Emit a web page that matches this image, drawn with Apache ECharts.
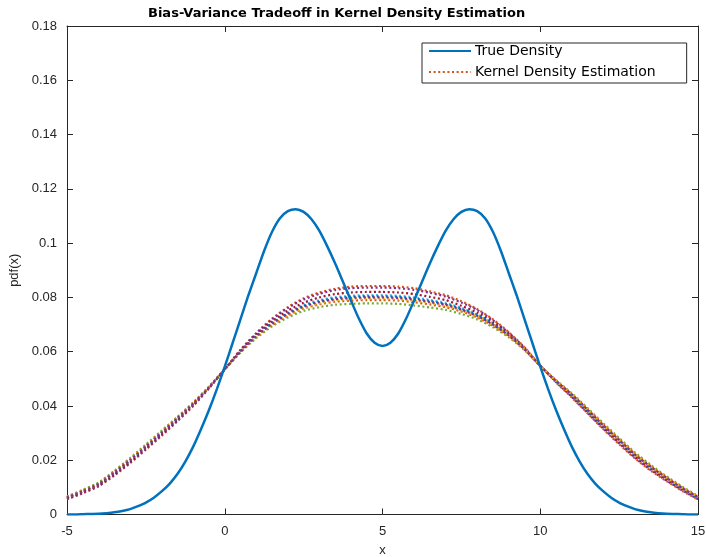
<!DOCTYPE html>
<html>
<head>
<meta charset="utf-8">
<script src="https://cdn.jsdelivr.net/npm/echarts@6/dist/echarts.min.js"></script>
<style>
  html, body { margin: 0; padding: 0; background: #ffffff; }
  #chart { width: 706px; height: 557px; }
</style>
</head>
<body>
<div id="chart"></div>
<script>
// Sample grid for the true mixture density
const xTrue = [-5, -4.75, -4.5, -4.25, -4, -3.75, -3.5, -3.25, -3, -2.75, -2.5, -2.25, -2, -1.75, -1.5, -1.25,
               -1, -0.75, -0.5, -0.25, 0, 0.25, 0.5, 0.75, 1, 1.25, 1.5, 1.75, 2, 2.25, 2.5, 2.75, 3, 3.25, 3.5, 3.75,
               4, 4.25, 4.5, 4.75, 5, 5.25, 5.5, 5.75, 6, 6.25, 6.5, 6.75, 7, 7.25, 7.5, 7.75, 8, 8.25, 8.5, 8.75,
               9, 9.25, 9.5, 9.75, 10, 10.25, 10.5, 10.75, 11, 11.25, 11.5, 11.75, 12, 12.25, 12.5, 12.75,
               13, 13.25, 13.5, 13.75, 14, 14.25, 14.5, 14.75, 15];
const trueDensity = [0.0000, 0.0000, 0.0001, 0.0002, 0.0003, 0.0005, 0.0008, 0.0013, 0.0020, 0.0031, 0.0044, 0.0062,
                     0.0085, 0.0113, 0.0149, 0.0195, 0.0250, 0.0315, 0.0385, 0.0462, 0.0545, 0.0632, 0.0720, 0.0808,
                     0.0890, 0.0972, 0.1042, 0.1092, 0.1118, 0.1125, 0.1115, 0.1088, 0.1045, 0.0988, 0.0925, 0.0857,
                     0.0788, 0.0722, 0.0667, 0.0633, 0.0621, 0.0633, 0.0667, 0.0722, 0.0788, 0.0857, 0.0925, 0.0988,
                     0.1045, 0.1088, 0.1115, 0.1125, 0.1118, 0.1092, 0.1042, 0.0972, 0.0890, 0.0808, 0.0720, 0.0632,
                     0.0545, 0.0462, 0.0385, 0.0315, 0.0250, 0.0195, 0.0149, 0.0113, 0.0085, 0.0062, 0.0044, 0.0031,
                     0.0020, 0.0013, 0.0008, 0.0005, 0.0003, 0.0002, 0.0001, 0.0000, 0.0000];

// Evaluation grid for the kernel density estimates (one per resampled run)
const xKde = [-5, -4.5, -4, -3.5, -3, -2.5, -2, -1.5, -1, -0.5, 0, 0.5, 1, 1.5, 2, 2.5, 3, 3.5, 4, 4.5,
              5, 5.5, 6, 6.5, 7, 7.5, 8, 8.5, 9, 9.5, 10, 10.5, 11, 11.5, 12, 12.5, 13, 13.5, 14, 14.5, 15];
const kdeRun1  = [0.0056, 0.0078, 0.0104, 0.0144, 0.0189, 0.0239, 0.0290, 0.0344, 0.0400, 0.0465, 0.0535, 0.0607, 0.0669, 0.0722, 0.0764, 0.0797, 0.0818, 0.0832, 0.0840, 0.0842, 0.0842, 0.0840, 0.0834, 0.0822, 0.0808, 0.0786, 0.0757, 0.0719, 0.0672, 0.0616, 0.0548, 0.0487, 0.0431, 0.0373, 0.0314, 0.0259, 0.0207, 0.0162, 0.0123, 0.0087, 0.0055];
const kdeRun2  = [0.0063, 0.0087, 0.0113, 0.0155, 0.0202, 0.0252, 0.0303, 0.0355, 0.0409, 0.0469, 0.0535, 0.0600, 0.0656, 0.0702, 0.0738, 0.0764, 0.0781, 0.0791, 0.0796, 0.0798, 0.0798, 0.0796, 0.0790, 0.0781, 0.0771, 0.0753, 0.0731, 0.0699, 0.0659, 0.0609, 0.0548, 0.0493, 0.0442, 0.0386, 0.0329, 0.0275, 0.0222, 0.0176, 0.0136, 0.0098, 0.0064];
const kdeRun3  = [0.0057, 0.0080, 0.0105, 0.0145, 0.0191, 0.0241, 0.0292, 0.0345, 0.0401, 0.0465, 0.0535, 0.0606, 0.0667, 0.0719, 0.0761, 0.0792, 0.0813, 0.0827, 0.0834, 0.0836, 0.0836, 0.0834, 0.0828, 0.0817, 0.0803, 0.0781, 0.0754, 0.0716, 0.0670, 0.0615, 0.0548, 0.0488, 0.0433, 0.0374, 0.0316, 0.0262, 0.0209, 0.0164, 0.0125, 0.0089, 0.0056];
const kdeRun4  = [0.0066, 0.0091, 0.0118, 0.0161, 0.0208, 0.0258, 0.0309, 0.0360, 0.0413, 0.0471, 0.0535, 0.0597, 0.0650, 0.0693, 0.0726, 0.0750, 0.0764, 0.0773, 0.0776, 0.0778, 0.0778, 0.0776, 0.0770, 0.0763, 0.0754, 0.0739, 0.0719, 0.0690, 0.0653, 0.0606, 0.0548, 0.0495, 0.0447, 0.0392, 0.0336, 0.0282, 0.0229, 0.0183, 0.0141, 0.0103, 0.0068];
const kdeRun5  = [0.0062, 0.0085, 0.0111, 0.0153, 0.0199, 0.0249, 0.0300, 0.0353, 0.0407, 0.0468, 0.0535, 0.0602, 0.0659, 0.0707, 0.0744, 0.0772, 0.0790, 0.0801, 0.0806, 0.0808, 0.0808, 0.0806, 0.0800, 0.0791, 0.0780, 0.0761, 0.0737, 0.0704, 0.0662, 0.0611, 0.0548, 0.0491, 0.0440, 0.0383, 0.0326, 0.0272, 0.0219, 0.0173, 0.0133, 0.0095, 0.0062];
const kdeRun6  = [0.0060, 0.0083, 0.0109, 0.0149, 0.0195, 0.0245, 0.0296, 0.0349, 0.0405, 0.0467, 0.0535, 0.0603, 0.0663, 0.0712, 0.0751, 0.0780, 0.0800, 0.0812, 0.0818, 0.0820, 0.0820, 0.0818, 0.0812, 0.0802, 0.0790, 0.0769, 0.0744, 0.0709, 0.0666, 0.0612, 0.0548, 0.0490, 0.0437, 0.0379, 0.0321, 0.0267, 0.0214, 0.0169, 0.0129, 0.0093, 0.0060];
const kdeRun7  = [0.0062, 0.0086, 0.0112, 0.0154, 0.0200, 0.0250, 0.0301, 0.0354, 0.0408, 0.0468, 0.0535, 0.0601, 0.0658, 0.0705, 0.0742, 0.0769, 0.0786, 0.0797, 0.0802, 0.0804, 0.0804, 0.0802, 0.0796, 0.0787, 0.0776, 0.0758, 0.0735, 0.0702, 0.0661, 0.0610, 0.0548, 0.0492, 0.0441, 0.0384, 0.0327, 0.0273, 0.0220, 0.0175, 0.0134, 0.0096, 0.0063];
const kdeRun8  = [0.0064, 0.0088, 0.0115, 0.0158, 0.0204, 0.0254, 0.0305, 0.0357, 0.0411, 0.0470, 0.0535, 0.0599, 0.0654, 0.0698, 0.0733, 0.0759, 0.0774, 0.0784, 0.0788, 0.0790, 0.0790, 0.0788, 0.0782, 0.0774, 0.0764, 0.0748, 0.0726, 0.0695, 0.0657, 0.0608, 0.0548, 0.0494, 0.0444, 0.0389, 0.0332, 0.0278, 0.0225, 0.0179, 0.0138, 0.0100, 0.0066];
const kdeRun9  = [0.0064, 0.0087, 0.0114, 0.0156, 0.0203, 0.0253, 0.0304, 0.0356, 0.0410, 0.0469, 0.0535, 0.0600, 0.0655, 0.0701, 0.0736, 0.0762, 0.0778, 0.0789, 0.0793, 0.0795, 0.0795, 0.0793, 0.0787, 0.0779, 0.0768, 0.0751, 0.0729, 0.0698, 0.0658, 0.0609, 0.0548, 0.0493, 0.0443, 0.0387, 0.0330, 0.0276, 0.0223, 0.0177, 0.0136, 0.0099, 0.0065];
const kdeRun10 = [0.0063, 0.0086, 0.0113, 0.0155, 0.0201, 0.0251, 0.0302, 0.0355, 0.0409, 0.0469, 0.0535, 0.0600, 0.0657, 0.0703, 0.0739, 0.0766, 0.0783, 0.0793, 0.0798, 0.0800, 0.0800, 0.0798, 0.0792, 0.0783, 0.0773, 0.0755, 0.0732, 0.0700, 0.0660, 0.0609, 0.0548, 0.0492, 0.0442, 0.0386, 0.0328, 0.0275, 0.0221, 0.0176, 0.0135, 0.0097, 0.0064];

const xTicks = [-5, 0, 5, 10, 15];
const yTicks = [0, 0.02, 0.04, 0.06, 0.08, 0.1, 0.12, 0.14, 0.16, 0.18];

const kdeRuns = [kdeRun1, kdeRun2, kdeRun3, kdeRun4, kdeRun5, kdeRun6, kdeRun7, kdeRun8, kdeRun9, kdeRun10];
// MATLAB default line colour order, continuing after the blue true-density line
const kdeColors = ['#D95319', '#EDB120', '#7E2F8E', '#77AC30', '#4DBEEE', '#A2142F', '#0072BD', '#D95319', '#EDB120', '#7E2F8E'];

const pairs = (xs, ys) => xs.map((x, i) => [x, ys[i]]);

const FONT = 'Liberation Sans, Arial, Helvetica, sans-serif';
const FONT_WIDE = 'DejaVu Sans, Verdana, sans-serif';
const AXIS_COLOR = '#262626';

const axisCommon = {
  type: 'value',
  axisLine: { show: true, onZero: false, lineStyle: { color: AXIS_COLOR, width: 1 } },
  axisTick: { show: true, inside: true, length: 6, lineStyle: { color: AXIS_COLOR, width: 1 } },
  splitLine: { show: false }
};

const series = kdeRuns.map((run, i) => ({
  name: i === 0 ? 'Kernel Density Estimation' : 'KDE run ' + (i + 1),
  type: 'line',
  data: pairs(xKde, run),
  smooth: 0.25,
  showSymbol: false,
  symbol: 'none',
  silent: true,
  z: 2,
  lineStyle: { color: kdeColors[i], width: 2.2, type: [2, 2.6], cap: 'butt' },
  itemStyle: { color: kdeColors[i] }
}));

series.push({
  name: 'True Density',
  type: 'line',
  data: pairs(xTrue, trueDensity),
  smooth: 0.25,
  showSymbol: false,
  symbol: 'none',
  silent: true,
  z: 3,
  lineStyle: { color: '#0072BD', width: 2.5 },
  itemStyle: { color: '#0072BD' }
});

const chart = echarts.init(document.getElementById('chart'), null, { renderer: 'canvas' });
chart.setOption({
  animation: false,
  backgroundColor: '#ffffff',
  textStyle: { fontFamily: FONT },
  title: {
    text: 'Bias-Variance Tradeoff in Kernel Density Estimation',
    left: 148, top: 7, padding: 0,
    textStyle: { fontFamily: FONT_WIDE, fontWeight: 'bold', fontSize: 13, color: '#000000' }
  },
  legend: {
    data: ['True Density', 'Kernel Density Estimation'],
    orient: 'vertical',
    left: 422, top: 43,
    padding: [1, 31, 4, 6],
    itemGap: 7,
    itemWidth: 42, itemHeight: 14,
    borderColor: '#262626', borderWidth: 1,
    backgroundColor: '#ffffff',
    selectedMode: false,
    itemStyle: { opacity: 0 },
    textStyle: { fontFamily: FONT_WIDE, fontSize: 14, color: '#000000', padding: [0, 0, 0, -1] }
  },
  grid: { left: 67, right: 8, top: 26, bottom: 42.5, containLabel: false, outerBoundsMode: 'none' },
  xAxis: [
    Object.assign({}, axisCommon, {
      min: -5, max: 15, interval: 5, position: 'bottom',
      name: 'x', nameLocation: 'middle', nameGap: 29,
      nameTextStyle: { fontFamily: FONT, fontSize: 13, color: AXIS_COLOR },
      axisLabel: { show: true, margin: 10, fontFamily: FONT, fontSize: 13, color: AXIS_COLOR,
                   customValues: xTicks, formatter: v => String(v) },
      axisTick: Object.assign({}, axisCommon.axisTick, { customValues: xTicks })
    }),
    Object.assign({}, axisCommon, {
      min: -5, max: 15, interval: 5, position: 'top',
      axisLabel: { show: false }
    })
  ],
  yAxis: [
    Object.assign({}, axisCommon, {
      min: 0, max: 0.18, interval: 0.02, position: 'left',
      name: 'pdf(x)', nameLocation: 'middle', nameGap: 39, nameRotate: 90,
      nameTextStyle: { fontFamily: FONT, fontSize: 13, color: AXIS_COLOR },
      axisLabel: { show: true, margin: 10, fontFamily: FONT, fontSize: 13, color: AXIS_COLOR,
                   customValues: yTicks, formatter: v => String(+v.toFixed(2)) },
      axisTick: Object.assign({}, axisCommon.axisTick, { customValues: yTicks })
    }),
    Object.assign({}, axisCommon, {
      min: 0, max: 0.18, interval: 0.02, position: 'right',
      axisLabel: { show: false }
    })
  ],
  series: series
});
</script>
</body>
</html>
